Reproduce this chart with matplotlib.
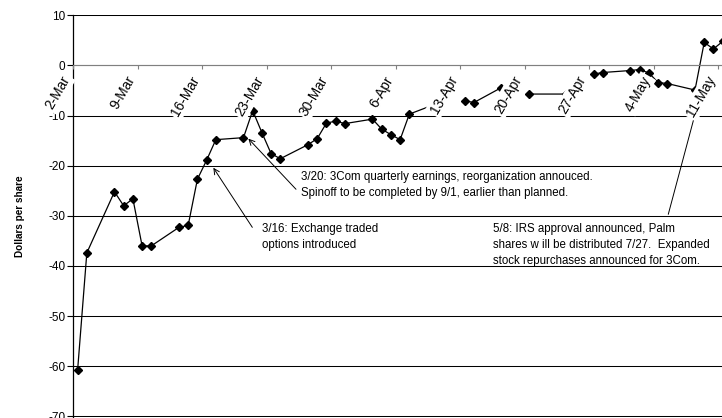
import numpy as np
import pandas as pd
import matplotlib
matplotlib.use('Agg')
import matplotlib.pyplot as plt

plt.rcParams['font.family'] = ['Liberation Sans', 'DejaVu Sans']
plt.rcParams['axes.unicode_minus'] = False

# daily value per share, trading days only (nan = no quote that day)
dates = ['2000-03-02', '2000-03-03', '2000-03-06', '2000-03-07', '2000-03-08',
         '2000-03-09', '2000-03-10', '2000-03-13', '2000-03-14', '2000-03-15',
         '2000-03-16', '2000-03-17', '2000-03-20', '2000-03-21', '2000-03-22',
         '2000-03-23', '2000-03-24', '2000-03-27', '2000-03-28', '2000-03-29',
         '2000-03-30', '2000-03-31', '2000-04-03', '2000-04-04', '2000-04-05',
         '2000-04-06', '2000-04-07', '2000-04-10', '2000-04-11', '2000-04-12',
         '2000-04-13', '2000-04-14', '2000-04-17', '2000-04-18', '2000-04-19',
         '2000-04-20', '2000-04-24', '2000-04-25', '2000-04-26', '2000-04-27',
         '2000-04-28', '2000-05-01', '2000-05-02', '2000-05-03', '2000-05-04',
         '2000-05-05', '2000-05-08', '2000-05-09', '2000-05-10', '2000-05-11']
values = [-60.8, -37.4, -25.2, -28.0, -26.6,
          -36.0, -36.0, -32.3, -31.9, -22.7,
          -18.9, -14.8, -14.4, -9.0, -13.4,
          -17.6, -18.6, -15.8, -14.6, -11.5,
          -11.1, -11.6, -10.7, -12.7, -13.8,
          -14.8, -9.7, -7.6, np.nan, np.nan,
          -7.0, -7.4, -4.4, np.nan, np.nan,
          -5.7, -5.7, np.nan, np.nan, -1.7,
          -1.4, -1.0, -0.8, -1.5, -3.4,
          -3.6, -4.9, 4.6, 3.3, 4.8]

tickDates = ['2000-03-02', '2000-03-09', '2000-03-16', '2000-03-23', '2000-03-30',
             '2000-04-06', '2000-04-13', '2000-04-20', '2000-04-27', '2000-05-04',
             '2000-05-11']
tickLabels = ['2-Mar', '9-Mar', '16-Mar', '23-Mar', '30-Mar', '6-Apr', '13-Apr',
              '20-Apr', '27-Apr', '4-May', '11-May']

start = pd.Timestamp('2000-03-02')
# points sit in the middle of their day
x = np.asarray((pd.to_datetime(dates) - start).days, dtype=float) + 0.5
xt = np.asarray((pd.to_datetime(tickDates) - start).days, dtype=float)

fig = plt.figure(figsize=(7.22, 4.18), dpi=100)
ax = fig.add_axes([73 / 722, 1.0 / 418, 1 - 73 / 722, 0.9608])

ax.set_xlim(0, 70.43)
ax.set_ylim(-70.15, 10)
ax.set_yticks(np.arange(-70, 11, 10))
ax.yaxis.grid(True, color='black', linewidth=0.75)

ax.plot(x, values, color='black', linewidth=0.9, marker='D', markersize=3.9)

# x axis runs along zero
ax.spines['bottom'].set_position(('data', 0))
ax.spines['bottom'].set_color('#808080')
ax.spines['right'].set_visible(False)
ax.spines['top'].set_visible(False)
ax.spines['left'].set_linewidth(0.9)

ax.set_xticks(xt)
ax.set_xticklabels(tickLabels, rotation=60, ha='right', va='top', fontsize=9.8)
ax.tick_params(axis='x', length=3, color='#808080', pad=3)
ax.tick_params(axis='y', length=4, pad=1.5, labelsize=8.5)
# labels are opaque and sit over the line
for lab in ax.get_xticklabels():
    lab.set_bbox(dict(facecolor='white', edgecolor='none', pad=1.4))
ax.xaxis.set_zorder(3)

ax.set_ylabel('Dollars per share', fontsize=7.2, fontweight='bold', labelpad=16.5)

arrow = dict(arrowstyle='->', color='black', linewidth=0.7, shrinkA=0, shrinkB=0)
ax.annotate('', xy=(15.23, -20.4), xytext=(19.46, -32.3), arrowprops=arrow)
ax.text(20.5, -31.5, '3/16: Exchange traded\noptions introduced',
        ha='left', va='top', fontsize=8.3, linespacing=1.45)

ax.annotate('', xy=(19.03, -14.6), xytext=(24.2, -24.7), arrowprops=arrow)
ax.text(24.7, -21.0, '3/20: 3Com quarterly earnings, reorganization annouced.\n'
        'Spinoff to be completed by 9/1, earlier than planned.',
        ha='left', va='top', fontsize=8.3, linespacing=1.45)

ax.annotate('', xy=(67.85, -7.36), xytext=(64.6, -29.7), arrowprops=arrow)
ax.text(45.6, -31.5, '5/8: IRS approval announced, Palm\n'
        'shares w ill be distributed 7/27.  Expanded\n'
        'stock repurchases announced for 3Com.',
        ha='left', va='top', fontsize=8.3, linespacing=1.45)

plt.savefig('out.png', dpi=100)
